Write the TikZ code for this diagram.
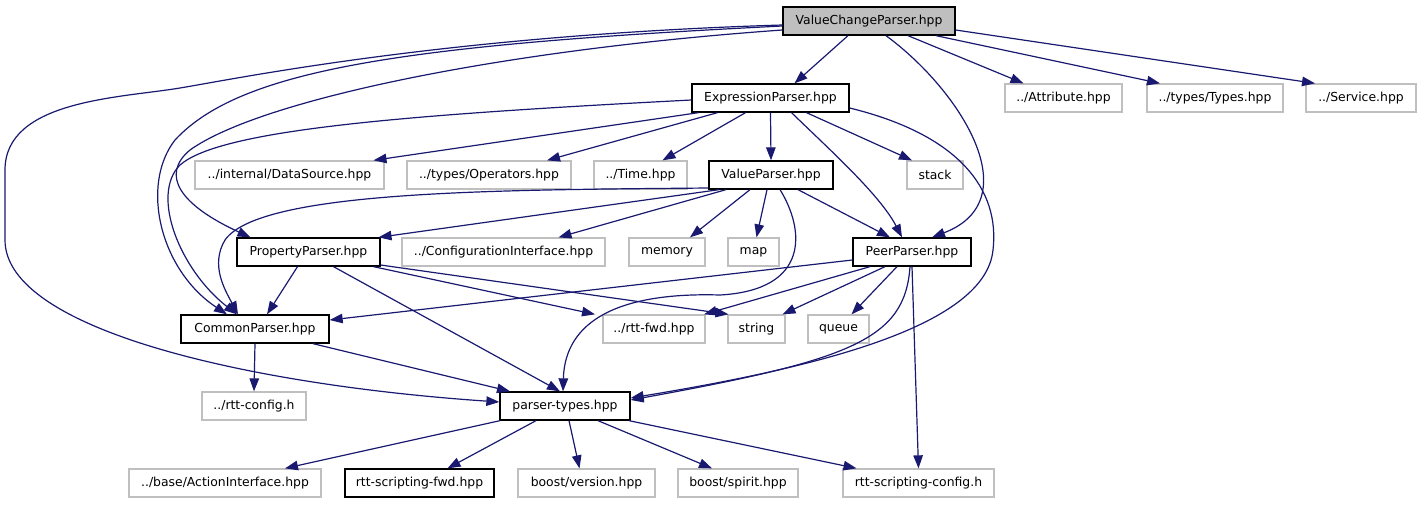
\documentclass[tikz,border=0pt]{standalone}
\usepackage{fontspec}
\setmainfont{DejaVu Sans}
\usetikzlibrary{arrows.meta}
\definecolor{inclblue}{HTML}{191970}
\definecolor{extgray}{HTML}{BFBFBF}
\tikzset{
  filebox/.style={draw=black, line width=1.3pt, minimum height=28pt, inner sep=0pt,
    font=\fontsize{12.4}{14}\selectfont},
  extbox/.style={filebox, draw=extgray},
  mainbox/.style={filebox, fill=extgray},
  incl/.style={draw=inclblue, line width=1.2pt, -{Triangle[length=13pt,width=9.5pt]}},
}
\begin{document}
\begin{tikzpicture}[x=1pt,y=-1pt]
    \useasboundingbox (0,0) rectangle (1419,504);

    % row 0
    \node[mainbox, minimum width=172pt] (vcp) at (869,21) {ValueChangeParser.hpp};
    % row 1
    \node[filebox, minimum width=157pt] (exp) at (770.5,98) {ExpressionParser.hpp};
    \node[extbox, minimum width=117pt] (attr) at (1063.5,98) {../Attribute.hpp};
    \node[extbox, minimum width=136pt] (types) at (1215,98) {../types/Types.hpp};
    \node[extbox, minimum width=110pt] (service) at (1361,98) {../Service.hpp};
    % row 2
    \node[extbox, minimum width=189pt] (ds) at (289.5,175) {../internal/DataSource.hpp};
    \node[extbox, minimum width=164pt] (ops) at (489,175) {../types/Operators.hpp};
    \node[extbox, minimum width=93pt] (time) at (640.5,175) {../Time.hpp};
    \node[filebox, minimum width=124pt] (val) at (771,175) {ValueParser.hpp};
    \node[extbox, minimum width=56pt] (stack) at (935,175) {stack};
    % row 3
    \node[filebox, minimum width=143pt] (prop) at (308.5,252) {PropertyParser.hpp};
    \node[extbox, minimum width=203pt] (conf) at (503.5,252) {../ConfigurationInterface.hpp};
    \node[extbox, minimum width=76pt] (memory) at (667,252) {memory};
    \node[extbox, minimum width=51pt] (map) at (753.5,252) {map};
    \node[filebox, minimum width=118pt] (peer) at (912,252) {PeerParser.hpp};
    % row 4
    \node[filebox, minimum width=148pt] (common) at (255,329) {CommonParser.hpp};
    \node[extbox, minimum width=102pt] (fwd) at (654,329) {../rtt-fwd.hpp};
    \node[extbox, minimum width=57pt] (string) at (756.5,329) {string};
    \node[extbox, minimum width=61pt] (queue) at (838.5,329) {queue};
    % row 5
    \node[extbox, minimum width=104pt] (rttcfg) at (254,406) {../rtt-config.h};
    \node[filebox, minimum width=130pt] (ptypes) at (565,406) {parser-types.hpp};
    % row 6
    \node[extbox, minimum width=192pt] (action) at (225,483) {../base/ActionInterface.hpp};
    \node[filebox, minimum width=149pt] (sfwd) at (419.5,483) {rtt-scripting-fwd.hpp};
    \node[extbox, minimum width=137pt] (bver) at (586.5,483) {boost/version.hpp};
    \node[extbox, minimum width=120pt] (bspirit) at (738,483) {boost/spirit.hpp};
    \node[extbox, minimum width=151pt] (scfg) at (918.5,483) {rtt-scripting-config.h};

    % ValueChangeParser.hpp
    \draw[incl] ([xshift=-21pt]vcp.south) -- ([xshift=24pt]exp.north);
    \draw[incl] ([xshift=39pt]vcp.south) -- ([xshift=-40pt]attr.north);
    \draw[incl] ([xshift=67pt]vcp.south) -- ([xshift=-55pt]types.north);
    \draw[incl] ([yshift=-9pt]vcp.east) -- ([xshift=-46pt]service.north);
    \draw[incl] ([xshift=17pt]vcp.south) .. controls (960,90) and (1030,200) .. ([xshift=20pt]peer.north);
    \draw[incl] ([yshift=-4pt]vcp.west) .. controls (450,35) and (240,78) .. (180,88)
        .. controls (120,98) and (5,100) .. (5,170) -- (5,240)
        .. controls (5,330) and (250,385) .. ([yshift=4pt]ptypes.west);
    \draw[incl] ([yshift=-5pt]vcp.west) .. controls (400,45) and (240,70) .. (175,140)
        .. controls (140,185) and (160,270) .. ([xshift=-28pt]common.north);
    \draw[incl] ([yshift=-9pt]vcp.west) .. controls (500,50) and (260,100) .. (190,150)
        .. controls (160,175) and (180,205) .. ([xshift=-58pt]prop.north);

    % ExpressionParser.hpp
    \draw[incl] ([yshift=-2pt]exp.west) .. controls (400,115) and (220,130) .. (180,165)
        .. controls (150,195) and (180,270) .. ([xshift=-18pt]common.north);
    \draw[incl] ([xshift=-72pt]exp.south) -- ([xshift=84pt]ds.north);
    \draw[incl] ([xshift=-53pt]exp.south) -- ([xshift=58pt]ops.north);
    \draw[incl] ([xshift=-25pt]exp.south) -- ([xshift=22pt]time.north);
    \draw[incl] (exp.south) -- (val.north);
    \draw[incl] ([xshift=21pt]exp.south) .. controls (830,150) and (880,195) .. ([xshift=-10pt]peer.north);
    \draw[incl] ([xshift=36pt]exp.south) -- ([xshift=-23pt]stack.north);
    \draw[incl] ([yshift=-10pt]exp.east) .. controls (960,135) and (1000,190) .. (993,250)
        .. controls (985,330) and (800,370) .. ([yshift=8pt]ptypes.east);

    % ValueParser.hpp
    \draw[incl] ([yshift=-13pt]val.west) .. controls (500,190) and (260,190) .. (225,240)
        .. controls (210,265) and (225,290) .. ([xshift=-17pt]common.north);
    \draw[incl] ([xshift=-52pt]val.south) -- ([xshift=70pt]prop.north);
    \draw[incl] ([xshift=-45pt]val.south) -- ([xshift=55pt]conf.north);
    \draw[incl] ([xshift=-21pt]val.south) -- ([xshift=23pt]memory.north);
    \draw[incl] ([xshift=-4pt]val.south) -- ([xshift=3pt]map.north);
    \draw[incl] ([xshift=9pt]val.south) .. controls (805,230) and (810,290) .. (720,295)
        .. controls (620,292) and (565,320) .. ([xshift=-2pt]ptypes.north);
    \draw[incl] ([xshift=27pt]val.south) -- ([xshift=-22pt]peer.north);

    % PropertyParser.hpp
    \draw[incl] ([xshift=-11pt]prop.south) -- ([xshift=12pt]common.north);
    \draw[incl] ([xshift=25pt]prop.south) -- ([xshift=-5pt]ptypes.north);
    \draw[incl] ([xshift=65pt]prop.south) -- ([xshift=-59pt]fwd.north);
    \draw[incl] ([yshift=-13pt]prop.east) -- ([xshift=-28pt]string.north);

    % PeerParser.hpp
    \draw[incl] ([yshift=-8pt]peer.west) -- ([yshift=9pt]common.east);
    \draw[incl] ([xshift=-42pt]peer.south) -- ([xshift=50pt]fwd.north);
    \draw[incl] ([xshift=-27pt]peer.south) -- ([xshift=26pt]string.north);
    \draw[incl] ([xshift=-15pt]peer.south) -- ([xshift=13pt]queue.north);
    \draw[incl] (peer.south) -- (scfg.north);
    \draw[incl] ([xshift=-2pt]peer.south) .. controls (905,340) and (850,360) .. ([yshift=6pt]ptypes.east);

    % CommonParser.hpp
    \draw[incl] (common.south) -- (rttcfg.north);
    \draw[incl] ([xshift=58pt]common.south) -- ([xshift=-55pt]ptypes.north);

    % parser-types.hpp
    \draw[incl] ([xshift=-65pt]ptypes.south) -- ([xshift=60pt]action.north);
    \draw[incl] ([xshift=-29pt]ptypes.south) -- ([xshift=28pt]sfwd.north);
    \draw[incl] ([xshift=4pt]ptypes.south) -- ([xshift=-7pt]bver.north);
    \draw[incl] ([xshift=33pt]ptypes.south) -- ([xshift=-26pt]bspirit.north);
    \draw[incl] ([xshift=64pt]ptypes.south) -- ([xshift=-62pt]scfg.north);

\end{tikzpicture}
\end{document}
